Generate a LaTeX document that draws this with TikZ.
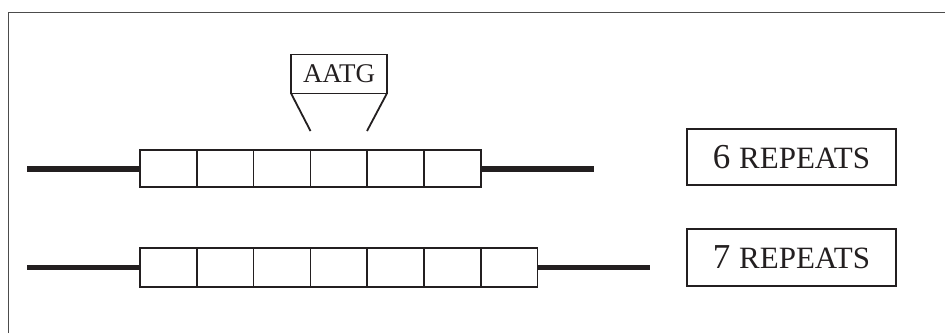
\documentclass[tikz,border=0pt]{standalone}
\usepackage{fontspec}
\setmainfont{Liberation Serif}
\definecolor{ink}{HTML}{231F20}
\begin{document}
\begin{tikzpicture}[x=1pt,y=-1pt,
  cell/.style={draw=ink, line width=1.6pt, minimum width=56.8pt,
    inner sep=0pt, outer sep=0pt, anchor=center},
  tag/.style={draw=ink, line width=1.4pt, inner sep=0pt, outer sep=0pt,
    text=ink, align=center},
  flank/.style={draw=ink, line cap=butt},
  leg/.style={draw=ink, line width=1.8pt},
  frame/.style={draw=black!70, line width=1pt}]
\useasboundingbox (0,0) rectangle (945,333);

% open frame (left and top edges)
\draw[frame] (8.5,333) -- (8.5,12) -- (945,12);

% upper allele: six repeat units
\foreach \i in {1,...,6}
  \node[cell, minimum height=37pt] (a\i) at ({140+56.8*(\i-0.5)},168.5) {};
\coordinate (aL) at (27,168.5);
\coordinate (aR) at (594,168.5);
\draw[flank, line width=6pt] (aL) -- (a1.west);
\draw[flank, line width=6pt] (a6.east) -- (aR);

% lower allele: seven repeat units
\foreach \i in {1,...,7}
  \node[cell, minimum height=39pt] (b\i) at ({140+56.8*(\i-0.5)},267.5) {};
\coordinate (bL) at (27,267.5);
\coordinate (bR) at (650,267.5);
\draw[flank, line width=4.5pt] (bL) -- (b1.west);
\draw[flank, line width=4.5pt] (b7.east) -- (bR);

% repeat unit sequence with pointer legs
\node[tag, minimum width=96pt, minimum height=38.5pt,
  font=\fontsize{27}{30}\selectfont] (unit) at (339,74) {AATG};
\coordinate (legL) at (310.5,131);
\coordinate (legR) at (367,131);
\draw[leg] (unit.south west) -- (legL);
\draw[leg] (unit.south east) -- (legR);

% allele labels
\node[tag, minimum width=209pt, minimum height=56pt] (six) at (791.5,157)
  {\fontsize{35}{40}\selectfont 6 {\fontsize{31}{36}\selectfont REPEATS}};
\node[tag, minimum width=209pt, minimum height=57pt] (seven) at (791.5,257.5)
  {\fontsize{35}{40}\selectfont 7 {\fontsize{31}{36}\selectfont REPEATS}};
\end{tikzpicture}
\end{document}
